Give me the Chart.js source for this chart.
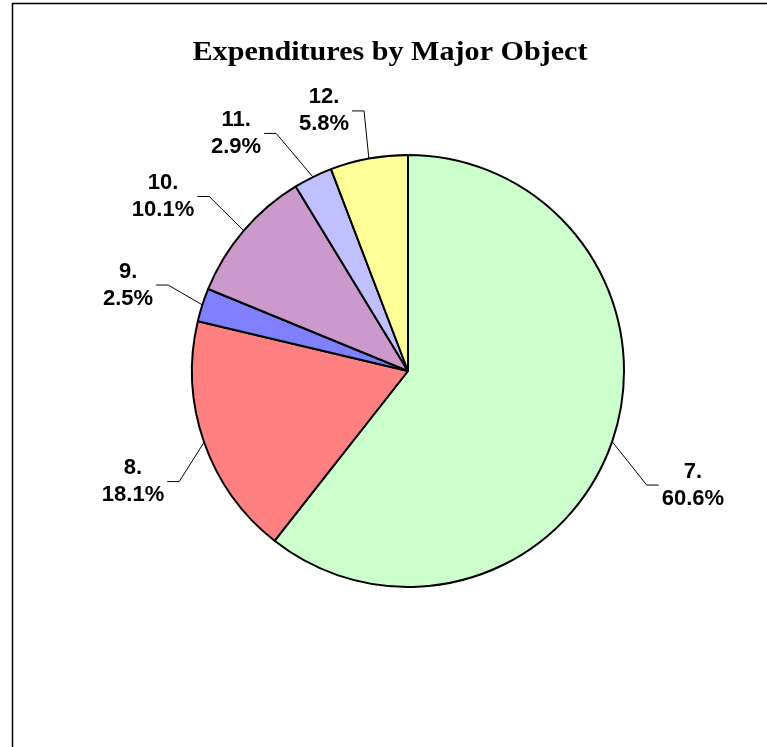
<!DOCTYPE html>
<html>
<head>
<meta charset="utf-8">
<script src="https://cdn.jsdelivr.net/npm/chart.js@4/dist/chart.umd.min.js"></script>
<style>
  html, body { margin: 0; padding: 0; background: #fff; }
  #wrap { position: absolute; left: 0; top: 0; width: 767px; height: 747px; }
</style>
</head>
<body>
<div id="wrap"><canvas id="c" width="767" height="747"></canvas></div>
<script>
const chartTitle = 'Expenditures by Major Object';
const categories = ['7.', '8.', '9.', '10.', '11.', '12.'];
const shares = [60.6, 18.1, 2.5, 10.1, 2.9, 5.8];
const percentLabels = ['60.6%', '18.1%', '2.5%', '10.1%', '2.9%', '5.8%'];
const sliceColors = ['#CCFFCC', '#FF8080', '#8080FF', '#CC99CC', '#C0C0FF', '#FFFF99'];

// label block centres, relative to pie centre in units of radius
const labelOffsets = [
  [1.319, 0.528],
  [-1.273, 0.512],
  [-1.296, -0.398],
  [-1.134, -0.808],
  [-0.796, -1.100],
  [-0.389, -1.204]
];

const framePlugin = {
  id: 'frame',
  beforeDraw(chart) {
    const ctx = chart.ctx;
    ctx.save();
    ctx.fillStyle = '#fff';
    ctx.fillRect(0, 0, chart.width, chart.height);
    ctx.strokeStyle = '#000';
    ctx.lineWidth = 1.5;
    ctx.beginPath();
    ctx.moveTo(12.5, chart.height + 5);
    ctx.lineTo(12.5, 3.5);
    ctx.lineTo(chart.width + 5, 3.5);
    ctx.stroke();
    ctx.fillStyle = '#000';
    ctx.font = 'bold 27px "Liberation Serif", "Times New Roman", serif';
    ctx.textAlign = 'center';
    ctx.textBaseline = 'alphabetic';
    const tw = ctx.measureText(chartTitle).width;
    const sx = 395 / tw;
    ctx.translate(390, 60);
    ctx.scale(sx, 1);
    ctx.fillText(chartTitle, 0, 0);
    ctx.restore();
  }
};

const labelPlugin = {
  id: 'pieLabels',
  afterDatasetsDraw(chart) {
    const ctx = chart.ctx;
    const meta = chart.getDatasetMeta(0);
    ctx.save();
    ctx.font = 'bold 22px "Liberation Sans", Arial, sans-serif';
    const lineH = 27;
    meta.data.forEach((arc, i) => {
      const p = arc.getProps(['x', 'y', 'startAngle', 'endAngle', 'outerRadius'], true);
      const R = p.outerRadius;
      const mid = (p.startAngle + p.endAngle) / 2;
      const ex = p.x + Math.cos(mid) * R;
      const ey = p.y + Math.sin(mid) * R;
      const tx = p.x + labelOffsets[i][0] * R;
      const ty = p.y + labelOffsets[i][1] * R;
      const l1 = categories[i];
      const l2 = percentLabels[i];
      const w = Math.max(ctx.measureText(l1).width, ctx.measureText(l2).width);
      const side = labelOffsets[i][0] > 0 ? 1 : -1;
      const endX = tx - side * (w / 2 + 3);
      const elbowX = endX - side * 12;
      ctx.strokeStyle = '#000';
      ctx.lineWidth = 1;
      ctx.beginPath();
      ctx.moveTo(ex, ey);
      ctx.lineTo(elbowX, ty);
      ctx.lineTo(endX, ty);
      ctx.stroke();
      ctx.fillStyle = '#000';
      ctx.textAlign = 'center';
      ctx.textBaseline = 'middle';
      ctx.fillText(l1, tx, ty - lineH / 2);
      ctx.fillText(l2, tx, ty + lineH / 2);
    });
    ctx.restore();
  }
};

new Chart(document.getElementById('c'), {
  type: 'pie',
  data: {
    labels: categories,
    datasets: [{
      data: shares,
      backgroundColor: sliceColors,
      borderColor: '#000',
      borderWidth: 2
    }]
  },
  options: {
    responsive: false,
    animation: false,
    layout: { padding: { left: 191, right: 142, top: 154, bottom: 159 } },
    plugins: {
      legend: { display: false },
      tooltip: { enabled: false },
      title: { display: false }
    }
  },
  plugins: [framePlugin, labelPlugin]
});
</script>
</body>
</html>
